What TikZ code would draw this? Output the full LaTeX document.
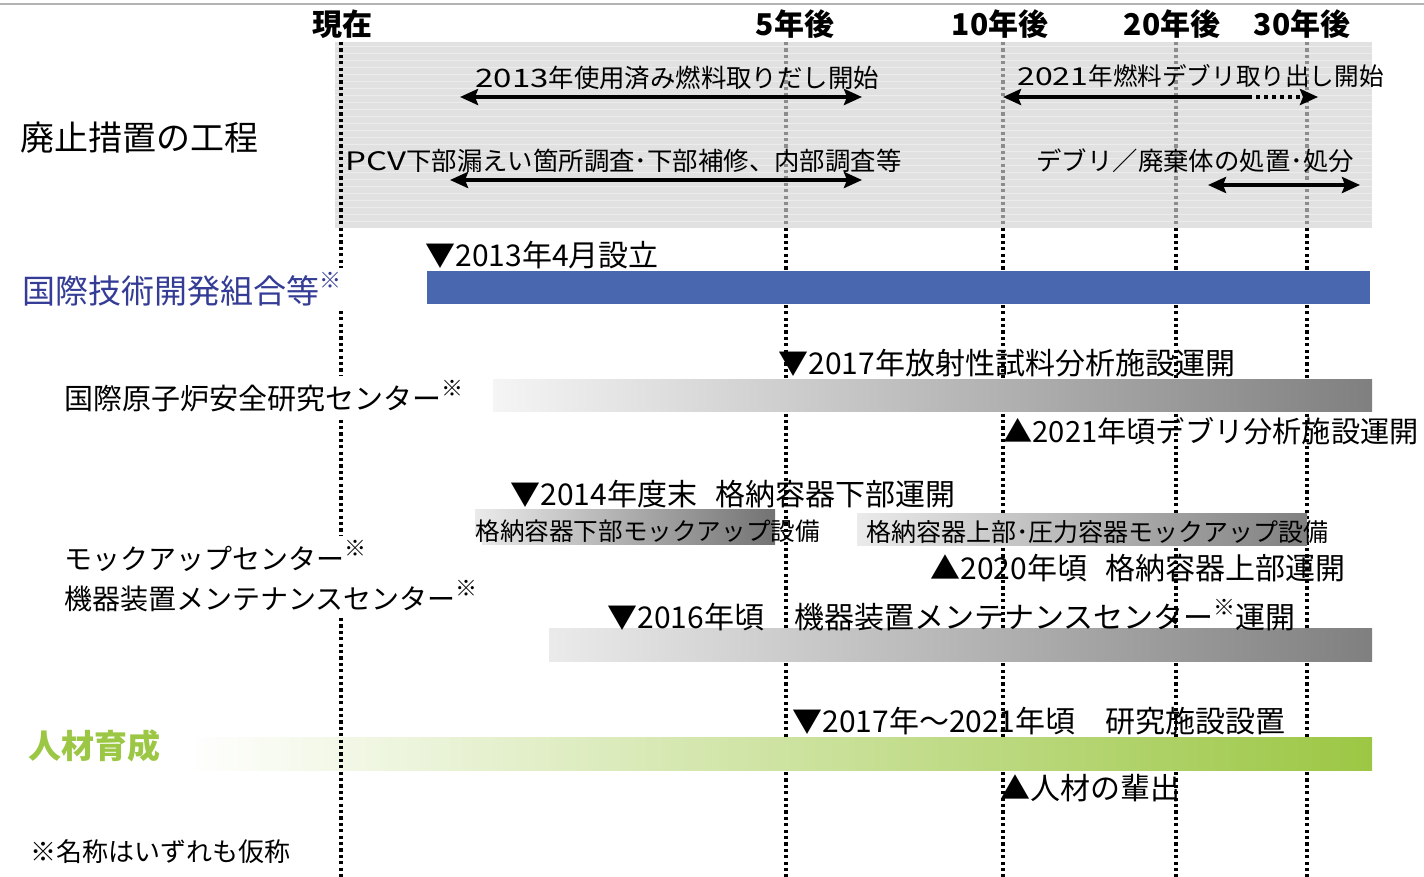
\documentclass[tikz,border=0pt]{standalone}
\usepackage{fontspec}
\setmainfont{Noto Sans CJK JP}
\usetikzlibrary{arrows.meta,positioning}
\definecolor{panelgray}{RGB}{225,225,225}
\definecolor{stripegray}{RGB}{236,236,236}
\definecolor{iridblue}{RGB}{72,103,175}
\definecolor{iridtext}{RGB}{52,60,150}
\definecolor{hrgreen}{RGB}{156,199,68}
\newcommand{\kome}{\raisebox{0.45em}{\fontsize{11}{11}\selectfont ※}}
\newcommand{\wide}[1]{{\addfontfeature{FakeStretch=1.3}#1}}

\begin{document}
\begin{tikzpicture}[x=0.5pt,y=-0.5pt,>={Stealth[length=9pt,width=8pt,inset=1.5pt]},
  tick/.style={line width=1.8pt,dash pattern=on 1.6pt off 1.6pt},
  hdr/.style={font=\bfseries\fontsize{15}{15}\selectfont,inner sep=0pt},
  cat/.style={anchor=west,inner sep=2pt,fill=white,font=\fontsize{14}{14}\selectfont},
  ev/.style={anchor=west,inner sep=0pt,font=\fontsize{15}{15}\selectfont},
  ptxt/.style={anchor=west,inner sep=0pt,font=\fontsize{12.7}{12.7}\selectfont},
  span/.style={<->,line width=2pt}]
  \useasboundingbox (0,0) rectangle (1424,877);

  % top rule and process panel
  \draw[black!30,line width=1pt] (0,4) -- (1424,4);
  \fill[panelgray] (335,42) rectangle (1372,228);
  \foreach \y in {46,53,...,226}
    \draw[stripegray,line width=0.4pt] (335,\y) -- (1372,\y);

  % time axis headers
  \node[hdr] (now) at (342,24)  {現在};
  \node[hdr] (y5)  at (795,24)  {5年後};
  \node[hdr] (y10) at (1000,24) {10年後};
  \node[hdr] (y20) at (1172,24) {20年後};
  \node[hdr] (y30) at (1302,24) {30年後};

  % year guides
  \foreach \x in {786,1003,1176,1307}{
    \draw[tick,black!45] (\x,42) -- (\x,228);
    \draw[tick] (\x,228) -- (\x,877);
  }

  % panel contents
  \node[ptxt] (fuel)  at (475,78)  {\wide{2013}年使用済み燃料取りだし開始};
  \node[ptxt,font=\fontsize{12.3}{12.3}\selectfont] (debr) at (1017,76) {\wide{2021}年燃料デブリ取り出し開始};
  \node[ptxt] (pcv)   at (345,161) {\wide{PCV}下部漏えい箇所調査･下部補修、内部調査等};
  \node[ptxt] (waste) at (1036,161) {デブリ／廃棄体の処置･処分};
  \coordinate (fuelL) at (460,97);  \coordinate (fuelR) at (862,97);
  \coordinate (debrL) at (1003,97); \coordinate (debrM) at (1248,97);
  \coordinate (debrR) at (1318,97);
  \coordinate (pcvL) at (450,180);  \coordinate (pcvR) at (862,180);
  \coordinate (wasteL) at (1208,185); \coordinate (wasteR) at (1360,185);
  \draw[span] (fuelL) -- (fuelR);
  \draw[<-,line width=2pt] (debrL) -- (debrM);
  \draw[->,line width=2pt,dash pattern=on 2pt off 2pt] (debrM) -- (debrR);
  \draw[span] (pcvL) -- (pcvR);
  \draw[span] (wasteL) -- (wasteR);

  % bars
  \fill[iridblue] (427,271) rectangle (1370,304);
  \shade[left color=black!4,right color=black!50] (493,379) rectangle (1372,411);
  \shade[left color=black!8,right color=black!55] (475,509) rectangle (775,544);
  \shade[left color=black!8,right color=black!50] (857,513) rectangle (1307,545);
  \shade[left color=black!8,right color=black!50] (549,628) rectangle (1372,661);
  \shade[left color=white,right color=hrgreen] (185,737) rectangle (1372,770);

  % present line
  \draw[tick] (341,42) -- (341,877);

  % categories
  \node[anchor=west,inner sep=0pt,font=\fontsize{17}{17}\selectfont] (proc) at (20,138) {廃止措置の工程};
  \node[cat,text=iridtext,font=\fontsize{16.5}{16.5}\selectfont] (irid) at (18,289) {国際技術開発組合等\kome};
  \node[cat,font=\fontsize{14.5}{14.5}\selectfont] (icrs) at (60,396) {国際原子炉安全研究センター\kome};
  \node[cat,align=left,font=\fontsize{14}{20}\selectfont] (mock) at (60,576) {モックアップセンター\kome\\機器装置メンテナンスセンター\kome};
  \node[anchor=west,inner sep=0pt,text=hrgreen,font=\bfseries\fontsize{16.5}{16.5}\selectfont] (hr) at (28,746) {人材育成};
  \node[anchor=west,inner sep=0pt,font=\fontsize{13}{13}\selectfont] (note) at (30,852) {※名称はいずれも仮称};

  % milestones
  \node[ev] (e1) at (425,255)  {▼2013年4月設立};
  \node[ev] (e2) at (778,363)  {▼2017年放射性試料分析施設運開};
  \node[ev,font=\fontsize{14.6}{14.6}\selectfont] (e3) at (1003,431) {▲2021年頃デブリ分析施設運開};
  \node[ev] (e4) at (510,494)  {▼2014年度末\hspace{0.6em}格納容器下部運開};
  \node[ptxt,font=\fontsize{12.3}{12.3}\selectfont] (m1) at (475,531) {格納容器下部モックアップ設備};
  \node[ptxt,font=\fontsize{12.5}{12.5}\selectfont] (m2) at (866,532) {格納容器上部･圧力容器モックアップ設備};
  \node[ev] (e5) at (930,568)  {▲2020年頃\hspace{0.6em}格納容器上部運開};
  \node[ev] (e6) at (607,615)  {▼2016年頃　機器装置メンテナンスセンター\kome 運開};
  \node[ev] (e7) at (792,721)  {▼2017年～2021年頃　研究施設設置};
  \node[ev] (e8) at (1000,788) {▲人材の輩出};
\end{tikzpicture}
\end{document}
